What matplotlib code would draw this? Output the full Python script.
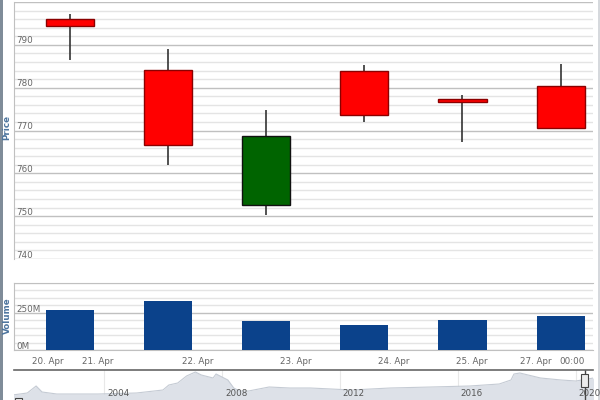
import numpy as np
import matplotlib.pyplot as plt
from matplotlib.patches import Rectangle
from matplotlib.ticker import MultipleLocator

# OHLC candles
opens = [796.0, 784.2, 752.7, 783.8, 777.3, 780.5]
highs = [797.3, 789.1, 774.7, 785.4, 778.2, 785.6]
lows = [786.5, 762.0, 750.2, 772.0, 767.3, 770.6]
closes = [794.5, 766.7, 768.7, 773.6, 776.6, 770.6]
volumes = [270e6, 326e6, 198e6, 169e6, 203e6, 230e6]

tick_labels = ['20. Apr', '21. Apr', '22. Apr', '23. Apr', '24. Apr', '25. Apr', '27. Apr', '00:00']
tick_pos = [-0.23, 0.28, 1.30, 2.30, 3.30, 4.10, 4.75, 5.12]

# navigator (overview) series
nav_years = [2000.9, 2001.4, 2001.7, 2001.9, 2002.4, 2003.8, 2005.1, 2006.0, 2006.2,
             2006.5, 2006.8, 2007.1, 2007.3, 2007.7, 2007.8, 2008.2, 2008.4, 2008.6,
             2008.9, 2009.6, 2010.3, 2011.0, 2011.7, 2012.4, 2013.7, 2015.1, 2016.4,
             2017.4, 2017.8, 2017.9, 2018.1, 2018.8, 2019.5, 2020.0, 2020.6]
nav_vals = [5, 7, 14, 8, 6, 6, 7, 10, 15, 17, 24, 28, 25, 22, 26, 20, 12, 9,
            9, 13, 12, 12, 11, 10, 12, 13, 14, 16, 20, 26, 27, 22, 20, 19, 22]
nav_years_lbl = [2004, 2008, 2012, 2016, 2020]

W, H = 600, 400
fig = plt.figure(figsize=(6, 4), dpi=100)
fig.patch.set_facecolor('white')

def box(x0, y0, x1, y1):
    return [x0 / W, 1 - y1 / H, (x1 - x0) / W, (y1 - y0) / H]

xlim = (-0.57, 5.33)
label_col = '#666666'
title_col = '#4d759e'
fs = 6.3

# ---- price panel
ax = fig.add_axes(box(14, 2, 593, 259))
ax.set_xlim(*xlim)
ax.set_ylim(740, 800)
ax.yaxis.set_major_locator(MultipleLocator(10))
ax.yaxis.set_minor_locator(MultipleLocator(2))
ax.grid(which='minor', axis='y', color='#e4e4e4', lw=1.0)
ax.grid(which='major', axis='y', color='#c0c0c0', lw=1.0)
ax.set_axisbelow(True)
ax.tick_params(which='both', left=False, bottom=False, labelleft=False, labelbottom=False)
for s in ['top', 'right', 'bottom']:
    ax.spines[s].set_visible(False)
ax.spines['left'].set_color('#c0c0c0')

bw = 0.49
for i in range(len(opens)):
    o, h, l, c = opens[i], highs[i], lows[i], closes[i]
    up = c > o
    face = '#006400' if up else '#ff0000'
    edge = '#111111' if up else '#8b0000'
    ax.vlines(i, l, h, color='#333333', lw=1.2, zorder=2)
    ax.add_patch(Rectangle((i - bw / 2, min(o, c)), bw, abs(c - o),
                           facecolor=face, edgecolor=edge, lw=1.0, zorder=3))

for v in range(740, 800, 10):
    ax.text(xlim[0] + 0.02, v + 0.35, str(v), fontsize=fs, color=label_col,
            ha='left', va='baseline')
fig.text(7 / W, 1 - 128 / H, 'Price', rotation=90, fontsize=fs, color=title_col,
         fontweight='bold', ha='center', va='center')

# ---- volume panel
axv = fig.add_axes(box(14, 283, 593, 350))
axv.set_xlim(*xlim)
axv.set_ylim(0, 450e6)
axv.yaxis.set_major_locator(MultipleLocator(250e6))
axv.yaxis.set_minor_locator(MultipleLocator(50e6))
axv.grid(which='minor', axis='y', color='#e4e4e4', lw=1.0)
axv.grid(which='major', axis='y', color='#c0c0c0', lw=1.0)
axv.set_axisbelow(True)
axv.tick_params(which='both', left=False, labelleft=False, length=0)
for s in ['left', 'bottom', 'top']:
    axv.spines[s].set_color('#c0c0c0')
axv.spines['right'].set_visible(False)
axv.bar(range(len(volumes)), volumes, width=bw, color='#0b428b', zorder=3)
axv.text(xlim[0] + 0.02, 6e6, '0M', fontsize=fs, color=label_col, ha='left', va='baseline')
axv.text(xlim[0] + 0.02, 256e6, '250M', fontsize=fs, color=label_col, ha='left', va='baseline')
axv.set_xticks(tick_pos)
axv.set_xticklabels(tick_labels, fontsize=fs, color=label_col)
axv.tick_params(axis='x', pad=5)
fig.text(7 / W, 1 - 316 / H, 'Volume', rotation=90, fontsize=fs, color=title_col,
         fontweight='bold', ha='center', va='center')

# ---- navigator
axn = fig.add_axes(box(14, 370, 593, 400))
axn.set_xlim(2000.95, 2020.58)
axn.set_ylim(0, 30)
axn.fill_between(nav_years, nav_vals, color='#dde1e8', lw=0)
axn.plot(nav_years, nav_vals, color='#c5cbd4', lw=0.8)
for yr in nav_years_lbl:
    axn.axvline(yr, color='#e8e8e8', lw=0.8, zorder=0)
    axn.text(yr + 0.1, 7, str(yr), fontsize=fs, color='#555555', ha='left', va='center')
axn.tick_params(which='both', left=False, bottom=False, labelleft=False, labelbottom=False)
for s in ['left', 'right', 'bottom']:
    axn.spines[s].set_visible(False)
axn.spines['top'].set_color('#666666')
axn.spines['top'].set_linewidth(1.2)
# navigator handles
axn.axvline(2020.3, color='#444444', lw=1.0)
axn.add_patch(Rectangle((2020.18, 13), 0.24, 13, facecolor='#ebebeb',
                        edgecolor='#444444', lw=0.8, zorder=4))
axn.add_patch(Rectangle((2000.97, -2), 0.24, 4, facecolor='#ebebeb',
                        edgecolor='#444444', lw=0.8, zorder=4, clip_on=False))

# frame strips at left / right edges
fig.patches.append(Rectangle((0, 0), 3 / W, 1, transform=fig.transFigure,
                             facecolor='#7f8c99', edgecolor='none'))
fig.patches.append(Rectangle((598 / W, 0), 2 / W, 1, transform=fig.transFigure,
                             facecolor='#d6d9dd', edgecolor='none', zorder=-1))

fig.savefig('out.png', dpi=100)
